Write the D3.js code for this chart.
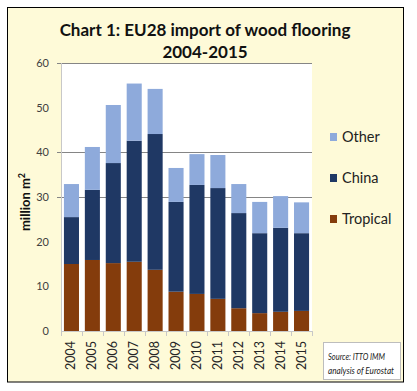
<!DOCTYPE html>
<html>
<head>
<meta charset="utf-8">
<script src="https://cdn.jsdelivr.net/npm/d3@7"></script>
<style>
  body { margin: 0; background: #fff; }
  svg { display: block; font-family: Lato, "Open Sans", sans-serif; }
</style>
</head>
<body>
<div id="wrapper"></div>
<script>
// data (million m2)
const years = ['2004','2005','2006','2007','2008','2009','2010','2011','2012','2013','2014','2015']
const tropical = [15.0, 15.9, 15.2, 15.5, 13.7, 8.8, 8.3, 7.2, 5.1, 4.0, 4.3, 4.5]
const china = [10.5, 15.7, 22.4, 27.1, 30.4, 20.1, 24.4, 24.8, 21.3, 17.9, 18.8, 17.4]
const other = [7.4, 9.6, 13.0, 12.8, 10.1, 7.6, 6.9, 7.4, 6.5, 7.0, 7.1, 6.9]
const seriesNames = ['Tropical', 'China', 'Other']
const yTicks = [0, 10, 20, 30, 40, 50, 60]
const gridTicks = [30, 40, 60]

const colors = { Tropical: '#843c0c', China: '#1f3864', Other: '#8eaadb' }

const width = 417, height = 391

const svg = d3.select('#wrapper').append('svg')
    .attr('width', width)
    .attr('height', height)

// frame
svg.append('rect')
    .attr('x', 7.5).attr('y', 7.5)
    .attr('width', 396).attr('height', 374.5)
    .attr('fill', '#fefad8')
    .attr('stroke', '#000')
    .attr('stroke-width', 1)

// title
svg.append('text')
    .attr('x', 205).attr('y', 36)
    .attr('text-anchor', 'middle')
    .attr('font-weight', 'bold')
    .attr('font-size', 17)
    .attr('fill', '#111')
    .text('Chart 1: EU28 import of wood flooring')
svg.append('text')
    .attr('x', 205).attr('y', 58)
    .attr('text-anchor', 'middle')
    .attr('font-weight', 'bold')
    .attr('font-size', 17)
    .attr('fill', '#111')
    .text('2004-2015')

// scales
const x = d3.scaleBand()
    .domain(years)
    .range([61, 312])
    .paddingInner(0.28)
    .paddingOuter(0.14)

const y = d3.scaleLinear()
    .domain([0, 60])
    .range([331, 63])

// plot area
svg.append('rect')
    .attr('x', 61).attr('y', 63)
    .attr('width', 251).attr('height', 268)
    .attr('fill', '#fff')

// gridlines
svg.selectAll('.grid')
    .data(gridTicks)
    .enter().append('line')
    .attr('class', 'grid')
    .attr('x1', 57).attr('x2', 312)
    .attr('y1', d => Math.round(y(d)) + 0.5)
    .attr('y2', d => Math.round(y(d)) + 0.5)
    .attr('stroke', '#858585')
    .attr('stroke-width', 1)

// y tick labels
svg.selectAll('.ylab')
    .data(yTicks)
    .enter().append('text')
    .attr('class', 'ylab')
    .attr('x', 49)
    .attr('y', d => y(d))
    .attr('dy', '0.35em')
    .attr('text-anchor', 'end')
    .attr('font-size', 11)
    .attr('fill', '#404040')
    .text(d => d)

// stacked bars
const table = years.map((yr, i) => ({ year: yr, Tropical: tropical[i], China: china[i], Other: other[i] }))
const stacked = d3.stack().keys(seriesNames)(table)

svg.selectAll('.layer')
    .data(stacked)
    .enter().append('g')
    .attr('class', 'layer')
    .attr('fill', d => colors[d.key])
    .selectAll('rect')
    .data(d => d)
    .enter().append('rect')
    .attr('x', d => x(d.data.year))
    .attr('width', x.bandwidth())
    .attr('y', d => y(d[1]))
    .attr('height', d => y(d[0]) - y(d[1]))

// axes lines
svg.append('line')
    .attr('x1', 61.5).attr('x2', 61.5)
    .attr('y1', 63).attr('y2', 331)
    .attr('stroke', '#c8c8c8')
svg.append('line')
    .attr('x1', 61).attr('x2', 312)
    .attr('y1', 331.5).attr('y2', 331.5)
    .attr('stroke', '#c8c8c8')

// x ticks between categories
const bounds = years.map(yr => x(yr) - x.step() * x.paddingInner() / 2).concat([312])
svg.selectAll('.xtick')
    .data(bounds)
    .enter().append('line')
    .attr('class', 'xtick')
    .attr('x1', d => Math.round(d) + 0.5)
    .attr('x2', d => Math.round(d) + 0.5)
    .attr('y1', 331).attr('y2', 336)
    .attr('stroke', '#c8c8c8')

// x labels
svg.selectAll('.xlab')
    .data(years)
    .enter().append('text')
    .attr('class', 'xlab')
    .attr('transform', d => `translate(${x(d) + x.bandwidth() / 2 + 4},341) rotate(-90)`)
    .attr('text-anchor', 'end')
    .attr('font-size', 12.5)
    .attr('fill', '#262626')
    .text(d => d)

// y title
const yTitle = svg.append('text')
    .attr('transform', 'translate(30,202) rotate(-90)')
    .attr('text-anchor', 'middle')
    .attr('font-weight', 'bold')
    .attr('font-size', 13)
    .attr('fill', '#111')
yTitle.append('tspan').text('million m')
yTitle.append('tspan').attr('dy', -5).attr('font-size', 9).text('2')

// legend
const legendItems = ['Other', 'China', 'Tropical']
const legendY = [137, 178, 219]
const legend = svg.selectAll('.legend')
    .data(legendItems)
    .enter().append('g')
    .attr('class', 'legend')
    .attr('transform', (d, i) => `translate(330,${legendY[i]})`)
legend.append('rect')
    .attr('x', 0).attr('y', -4)
    .attr('width', 7).attr('height', 8)
    .attr('fill', d => colors[d])
legend.append('text')
    .attr('x', 12)
    .attr('dy', '0.35em')
    .attr('font-size', 14.5)
    .attr('fill', '#222')
    .text(d => d)

// source box
svg.append('rect')
    .attr('x', 323.5).attr('y', 342.5)
    .attr('width', 77).attr('height', 37)
    .attr('fill', '#fff')
    .attr('stroke', '#bdbdbd')
svg.append('text')
    .attr('x', 328).attr('y', 360)
    .attr('font-size', 9.5)
    .attr('font-style', 'italic')
    .attr('fill', '#222')
    .attr('textLength', 57)
    .attr('lengthAdjust', 'spacingAndGlyphs')
    .text('Source: ITTO IMM')
svg.append('text')
    .attr('x', 328).attr('y', 374)
    .attr('font-size', 9.5)
    .attr('font-style', 'italic')
    .attr('fill', '#222')
    .attr('textLength', 66)
    .attr('lengthAdjust', 'spacingAndGlyphs')
    .text('analysis of Eurostat')
</script>
</body>
</html>
